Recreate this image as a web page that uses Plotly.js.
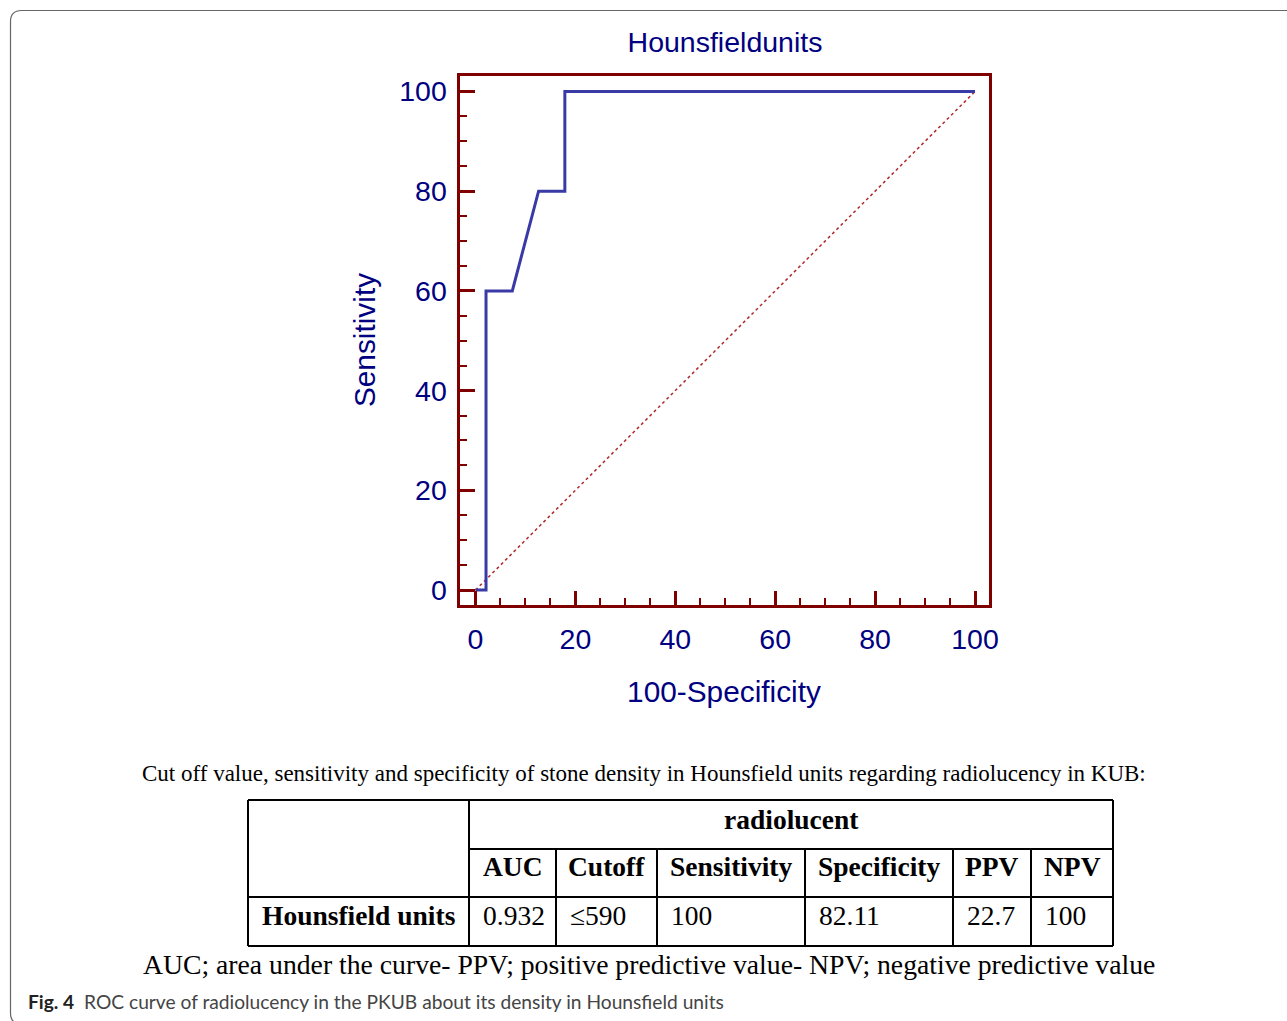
<!DOCTYPE html>
<html>
<head>
<meta charset="utf-8">
<script src="https://cdn.plot.ly/plotly-3.0.1.min.js"></script>
<style>html,body{margin:0;padding:0;background:#fff;}#chart{width:1287px;height:1021px;}</style>
</head>
<body>
<div id="chart"></div>
<script>
// ---- data ----
const rocFpr = [0, 2.11, 2.11, 7.37, 12.63, 17.89, 17.89, 100];
const rocSens = [0, 0, 60, 60, 80, 80, 100, 100];
const refX = [0, 100];
const refY = [0, 100];
const tickVals = [0, 20, 40, 60, 80, 100];
const chartTitle = "Hounsfieldunits";
const xTitle = "100-Specificity";
const yTitle = "Sensitivity";

const tableCaption = "Cut off value, sensitivity and specificity of stone density in Hounsfield units regarding radiolucency in KUB:";
const groupHeader = "radiolucent";
const colHeaders = ["AUC", "Cutoff", "Sensitivity", "Specificity", "PPV", "NPV"];
const rowLabel = "Hounsfield units";
const rowValues = ["0.932", "≤590", "100", "82.11", "22.7", "100"];
const footnote = "AUC; area under the curve- PPV; positive predictive value- NPV; negative predictive value";
const figLabel = "Fig. 4";
const figCaption = "ROC curve of radiolucency in the PKUB about its density in Hounsfield units";

// ---- layout helpers (pixel -> paper) ----
const W = 1287, H = 1021;
const px = x => x / W;
const py = y => 1 - y / H;

const frame = {l: 459.5, r: 988.5, t: 75.5, b: 604.5};
const red = '#800000';
const navy = '#000080';
const sans = 'Liberation Sans, Arial, sans-serif';
const serif = 'Liberation Serif, Times New Roman, serif';

const traces = [
  {x: refX, y: refY, mode: 'lines', line: {color: '#b02828', width: 1.5, dash: 'dot'}, hoverinfo: 'skip', showlegend: false},
  {x: rocFpr, y: rocSens, mode: 'lines', line: {color: '#3a3aa6', width: 3}, showlegend: false}
];

// table geometry
const tL = 248, tR = 1113, tT = 800, tM1 = 849, tM2 = 897, tB = 946;
const colX = [469, 556, 657, 805, 953, 1031, 1113];

const shapes = [];
function line(x0, y0, x1, y1, w) {
  shapes.push({type: 'line', xref: 'paper', yref: 'paper', x0: px(x0), y0: py(y0), x1: px(x1), y1: py(y1), line: {color: '#000', width: w || 2}});
}
line(tL, tT, tR, tT); line(tL, tB, tR, tB);
line(tL, tT, tL, tB); line(tR, tT, tR, tB);
line(colX[0], tT, colX[0], tB);
line(colX[0], tM1, tR, tM1);
line(tL, tM2, tR, tM2);
for (let i = 1; i < colX.length - 1; i++) line(colX[i], tM1, colX[i], tB);

// rounded outer panel border
const bx0 = 10.5, by0 = 10.5, bx1 = 1300, by1 = 1024, rr = 11;
shapes.push({
  type: 'path', xref: 'paper', yref: 'paper',
  path: `M ${px(bx1)},${py(by0)} L ${px(bx0 + rr)},${py(by0)} Q ${px(bx0)},${py(by0)} ${px(bx0)},${py(by0 + rr)} L ${px(bx0)},${py(by1 - rr)} Q ${px(bx0)},${py(by1)} ${px(bx0 + rr)},${py(by1)} L ${px(bx1)},${py(by1)}`,
  line: {color: '#666', width: 1.2}
});

const ann = [];
function text(t, x, y, opt) {
  opt = opt || {};
  ann.push({
    text: t, xref: 'paper', yref: 'paper', x: px(x), y: py(y),
    xanchor: opt.xa || 'center', yanchor: 'middle', showarrow: false,
    font: {family: opt.family || serif, size: opt.size || 27.5, color: opt.color || '#000'}
  });
}
text(tableCaption, 644, 773, {size: 23});
text('<b>' + groupHeader + '</b>', (colX[0] + tR) / 2, 819);
colHeaders.forEach((h, i) => text('<b>' + h + '</b>', (colX[i] + colX[i + 1]) / 2, 866));
text('<b>' + rowLabel + '</b>', (tL + colX[0]) / 2, 915);
rowValues.forEach((v, i) => text(v, colX[i] + 12, 915, {xa: 'left'}));
text(footnote, 649, 964, {size: 27.7});
text('<b>' + figLabel + '</b>  <span style="color:#444">' + figCaption + '</span>', 26, 1001, {xa: 'left', family: 'Lato, Open Sans, sans-serif', size: 19.2, color: '#222'});

const layout = {
  width: W, height: H,
  margin: {l: 0, r: 0, t: 0, b: 0},
  paper_bgcolor: '#fff', plot_bgcolor: '#fff',
  title: {text: chartTitle, x: px(725), xanchor: 'center', y: py(42), yanchor: 'middle', font: {family: sans, size: 28.5, color: navy}},
  xaxis: {
    domain: [px(frame.l), px(frame.r)], range: [-3.2, 102.7],
    tickvals: tickVals, ticks: 'inside', ticklen: 14, tickwidth: 3, tickcolor: red,
    minor: {dtick: 5, tick0: 0, ticks: 'inside', ticklen: 7, tickwidth: 2, tickcolor: red, showgrid: false},
    showline: true, linecolor: red, linewidth: 3, mirror: true,
    showgrid: false, zeroline: false,
    tickfont: {family: sans, size: 28.5, color: navy}, ticklabelstandoff: 7,
    title: {text: xTitle, font: {family: sans, size: 29.8, color: navy}, standoff: 28},
    automargin: false, fixedrange: true
  },
  yaxis: {
    domain: [py(frame.b), py(frame.t)], range: [-2.9, 103.2],
    tickvals: tickVals, ticks: 'inside', ticklen: 15, tickwidth: 3, tickcolor: red,
    minor: {dtick: 5, tick0: 0, ticks: 'inside', ticklen: 7, tickwidth: 2, tickcolor: red, showgrid: false},
    showline: true, linecolor: red, linewidth: 3, mirror: true,
    showgrid: false, zeroline: false,
    tickfont: {family: sans, size: 28.5, color: navy}, ticklabelstandoff: 4,
    title: {text: yTitle, font: {family: sans, size: 29.8, color: navy}, standoff: 15},
    automargin: false, fixedrange: true
  },
  shapes: shapes,
  annotations: ann
};

Plotly.newPlot('chart', traces, layout, {displayModeBar: false, staticPlot: true});
</script>
</body>
</html>
